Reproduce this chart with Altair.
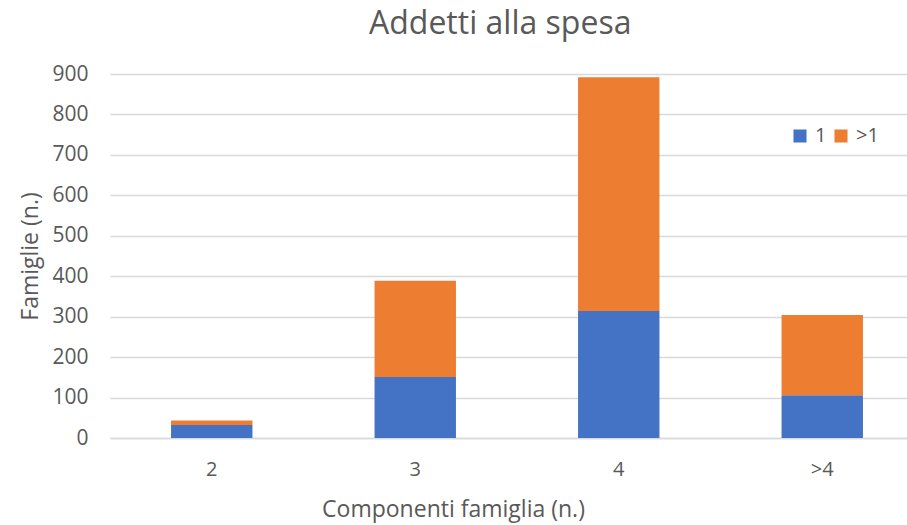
import altair as alt
import pandas as pd

# Households by number of members, split by how many people do the shopping
componenti = ["2", "3", "4", ">4"]
addetti_1 = [32, 151, 314, 106]
addetti_piu = [11, 238, 578, 198]

serie = ["1", ">1"]
colori = ["#4472C4", "#ED7D31"]

rows = []
for c, a, b in zip(componenti, addetti_1, addetti_piu):
    rows.append({"componenti": c, "addetti": "1", "famiglie": a, "ordine": 0})
    rows.append({"componenti": c, "addetti": ">1", "famiglie": b, "ordine": 1})
df = pd.DataFrame(rows)

FONT = "Open Sans"
GREY = "#595959"

chart = (
    alt.Chart(df)
    .mark_bar()
    .encode(
        x=alt.X(
            "componenti:N",
            sort=componenti,
            scale=alt.Scale(paddingInner=0.6, paddingOuter=0.3, range=[0, 814]),
            axis=alt.Axis(
                title="Componenti famiglia (n.)",
                labelAngle=0,
                labelFontSize=20,
                labelColor=GREY,
                labelPadding=21,
                ticks=False,
                domainColor="#d9d9d9",
                domainWidth=1.3,
                titleFontSize=23,
                titleFontWeight="normal",
                titleColor=GREY,
                titlePadding=19,
                titleX=343,
                titleAlign="center",
            ),
        ),
        y=alt.Y(
            "famiglie:Q",
            stack="zero",
            scale=alt.Scale(domain=[0, 900], nice=False),
            axis=alt.Axis(
                title="Famiglie (n.)",
                values=list(range(0, 901, 100)),
                labelFontSize=21,
                labelColor=GREY,
                labelPadding=22,
                ticks=False,
                domain=False,
                gridColor="#d9d9d9",
                gridWidth=1.3,
                titleFontSize=23,
                titleFontWeight="normal",
                titleColor=GREY,
                titleX=-68,
            ),
        ),
        color=alt.Color(
            "addetti:N",
            scale=alt.Scale(domain=serie, range=colori),
            legend=alt.Legend(
                title=None,
                orient="none",
                direction="horizontal",
                legendX=680,
                legendY=52,
                symbolType="square",
                symbolSize=170,
                symbolStrokeWidth=0,
                labelFontSize=20,
                labelColor=GREY,
                labelOffset=5,
                columnPadding=4,
            ),
        ),
        order=alt.Order("ordine:Q", sort="ascending"),
    )
    .properties(
        width=797,
        height=364,
        title=alt.TitleParams(
            "Addetti alla spesa",
            fontSize=32,
            fontWeight="normal",
            color=GREY,
            anchor="start",
            dx=350,
            offset=22,
        ),
        autosize=alt.AutoSizeParams(type="none"),
        padding={"left": 110, "top": 74, "right": 0, "bottom": 87},
    )
    .configure(font=FONT)
    .configure_view(stroke=None)
)

chart.save("out.html", embed_options={"renderer": "svg", "actions": False})
